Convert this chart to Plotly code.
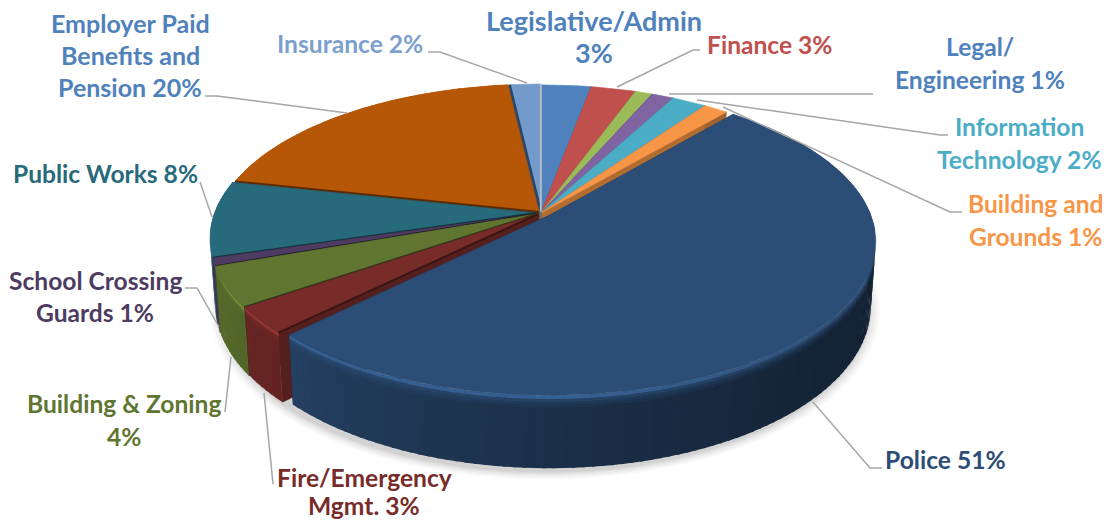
import numpy as np
import plotly.graph_objects as go

# Data (clockwise from 12 o'clock)
categories = ["Legislative/Admin", "Finance", "Legal/Engineering", "Other", "Information Technology",
              "Building and Grounds", "Police", "Fire/Emergency Mgmt.", "Building & Zoning",
              "School Crossing Guards", "Public Works", "Employer Paid Benefits and Pension", "Insurance"]
values = [2.9, 2.6, 1.0, 1.3, 2.0, 1.4, 51.4, 2.8, 4.2, 0.8, 8.0, 19.8, 1.8]
colors = ["#4f81bd", "#c0504d", "#9bbb59", "#8064a2", "#4bacc6", "#f79646", "#2c4d75",
          "#772c2a", "#5f7530", "#4d3b62", "#276a7c", "#b65708", "#729aca"]
explode = [0, 0, 0, 0, 0, 0, 0.03, 0.012, 0.014, 0.014, 0.014, 0.01, 0.008]

label_lines = [
    (["Employer Paid", "Benefits and", "Pension 20%"], 130, [23, 55, 87], "#4f81bd", 25),
    (["Insurance 2%"], 350, [43], "#7ba0cd", 24.6),
    (["Legislative/Admin", "3%"], 594, [20, 52], "#4f81bd", 27),
    (["Finance 3%"], 770, [44], "#c0504d", 24.6),
    (["Legal/", "Engineering 1%"], 980, [46, 79], "#4f81bd", 24.6),
    (["Information", "Technology 2%"], 1019, [126, 159], "#4bacc6", 24.6),
    (["Building and", "Grounds 1%"], 1036, [203, 236], "#f79646", 24.6),
    (["Police 51%"], 945, [459], "#2c4d75", 24.6),
    (["Fire/Emergency", "Mgmt. 3%"], 364, [477, 505], "#772c2a", 24.6),
    (["Building & Zoning", "4%"], 124, [403, 436], "#5f7530", 24.6),
    (["School Crossing", "Guards 1%"], 95, [280, 312], "#4d3b62", 24.6),
    (["Public Works 8%"], 105, [173], "#276a7c", 24.6),
]
leaders = [
    [(617, 87), (693, 50), (700, 50)],
    [(669, 94), (873, 94)],
    [(697, 100), (940, 135), (948, 135)],
    [(723, 107), (950, 212), (962, 212)],
    [(813, 402), (870, 468), (882, 468)],
    [(264, 393), (273, 484)],
    [(231, 357), (225, 412)],
    [(219, 327), (197, 288), (185, 288)],
    [(212, 217), (200, 182)],
    [(347, 113), (217, 96), (205, 96)],
    [(527, 83), (440, 52), (428, 52)],
]

cx, cy, Rx, A, p, H = 541, 213, 322, 149, 0.163, 63


def hex2rgb(c):
    return np.array([int(c[i:i + 2], 16) for i in (1, 3, 5)], float)


def rgb(v):
    v = np.clip(v, 0, 255)
    return f"rgb({int(v[0])},{int(v[1])},{int(v[2])})"


def proj(X, Z, t=0.0):
    s = 1 / (1 + p * Z)
    k = 1 - 0.015 * t
    return cx + Rx * s * X * k, cy - A * s * Z * k + t * H * s


fig = go.Figure()


def poly(xs, ys, color, lw=0.6):
    fig.add_trace(go.Scatter(x=xs, y=ys, mode="lines", fill="toself", fillcolor=color,
                             line=dict(color=color, width=lw), hoverinfo="skip", showlegend=False))


edges = np.cumsum([0] + values) / sum(values) * 360
mids = (edges[:-1] + edges[1:]) / 2
offs = [(e * np.sin(np.radians(m)), e * np.cos(np.radians(m))) for e, m in zip(explode, mids)]


def rim(i, th, t=0.0):
    a = np.radians(th)
    return proj(offs[i][0] + np.sin(a), offs[i][1] + np.cos(a), t)


# soft shadow under the disc
ang = np.linspace(0, 360, 181)
for grow, alpha in [(1.035, .02), (1.028, .03), (1.02, .035), (1.012, .045), (1.005, .05)]:
    xs, ys = proj(grow * np.sin(np.radians(ang)) + .012, grow * np.cos(np.radians(ang)) - .035, 1.0)
    poly(list(xs), list(ys), f"rgba(0,0,0,{alpha})", 0)


def wall_factor(th):
    return np.interp(th, [80, 130, 180, 230, 262, 290], [.42, .47, .62, .85, .95, .9])


def highlight(th):
    return np.interp(th, [120, 175, 235, 260], [0, .25, .22, 0])


order = [0, 1, 2, 3, 4, 5, 12, 11, 10, 9, 8, 7, 6]
for i in order:
    base = hex2rgb(colors[i])
    a0, a1 = edges[i], edges[i + 1]
    n = max(2, int((a1 - a0) / 1.5) + 1)
    ths = np.linspace(a0, a1, n + 1)
    step = ths[1] - ths[0]
    # cut faces (seen where a neighbour is pulled away)
    for th, f in ((a1, .65), (a0, .72)):
        ax, ay = proj(offs[i][0], offs[i][1], 0)
        bx, by = proj(offs[i][0], offs[i][1], 1)
        rx, ry = rim(i, th)
        qx, qy = rim(i, th, 1)
        poly([ax, rx, qx, bx, ax], [ay, ry, qy, by, ay], rgb(base * f))
    # outer wall with bevel bands; each strip overlaps the next so no seams show
    if a1 > 80 and a0 < 290:
        for u in ths[:-1]:
            v = min(u + step * 1.3, a1)
            m = u + step / 2
            w = base * wall_factor(m)
            bands = [(.16, 1, w), (.12, .17, base * .15 + w * .85), (.08, .13, base * .35 + w * .65),
                     (.04, .09, base * .65 + w * .35), (0, .05, base * (1 + highlight(m)))]
            for t0, t1, c in bands:
                x0, y0 = rim(i, u, t0)
                x1, y1 = rim(i, v, t0)
                x2, y2 = rim(i, v, t1)
                x3, y3 = rim(i, u, t1)
                poly([x0, x1, x2, x3, x0], [y0, y1, y2, y3, y0], rgb(c), 0)
    # top face
    th = np.linspace(a0, a1, max(3, int(a1 - a0) + 2))
    xs, ys = rim(i, th)
    ax, ay = proj(offs[i][0], offs[i][1], 0)
    poly([ax] + list(xs) + [ax], [ay] + list(ys) + [ay], colors[i])
    # dark lower edge on the slices of the left half
    if 225 < a0 < 350:
        x, y = rim(i, a0)
        fig.add_trace(go.Scatter(x=[ax, x], y=[ay, y], mode="lines", hoverinfo="skip", showlegend=False,
                                 line=dict(color=rgb(base * .5), width=2)))

# edges around the Insurance slice
ix, iy = rim(12, edges[12])
ax, ay = proj(offs[12][0], offs[12][1], 0)
fig.add_trace(go.Scatter(x=[ax, ix], y=[ay, iy], mode="lines", hoverinfo="skip", showlegend=False,
                         line=dict(color="#2a4566", width=2.5)))
ix, iy = rim(12, 360)
fig.add_trace(go.Scatter(x=[ax, ix], y=[ay, iy], mode="lines", hoverinfo="skip", showlegend=False,
                         line=dict(color="#b4bcc8", width=2)))

for pts in leaders:
    fig.add_trace(go.Scatter(x=[q[0] for q in pts], y=[q[1] for q in pts], mode="lines", hoverinfo="skip",
                             showlegend=False, line=dict(color="#a6a6a6", width=1.5)))

for lines, x, ys, c, size in label_lines:
    for t, y in zip(lines, ys):
        fig.add_annotation(x=x, y=y, text=t, showarrow=False, xanchor="center", yanchor="middle",
                           font=dict(family="Lato", size=size, color=c, weight="bold"))

fig.update_layout(width=1109, height=521, autosize=False, margin=dict(l=0, r=0, t=0, b=0),
                  paper_bgcolor="white", plot_bgcolor="white", showlegend=False,
                  xaxis=dict(range=[0, 1109], visible=False, fixedrange=True),
                  yaxis=dict(range=[521, 0], visible=False, fixedrange=True))
fig.write_html("out.html", config={"displayModeBar": False},
               post_script="document.body.style.margin='0';document.documentElement.style.overflow='hidden';")
